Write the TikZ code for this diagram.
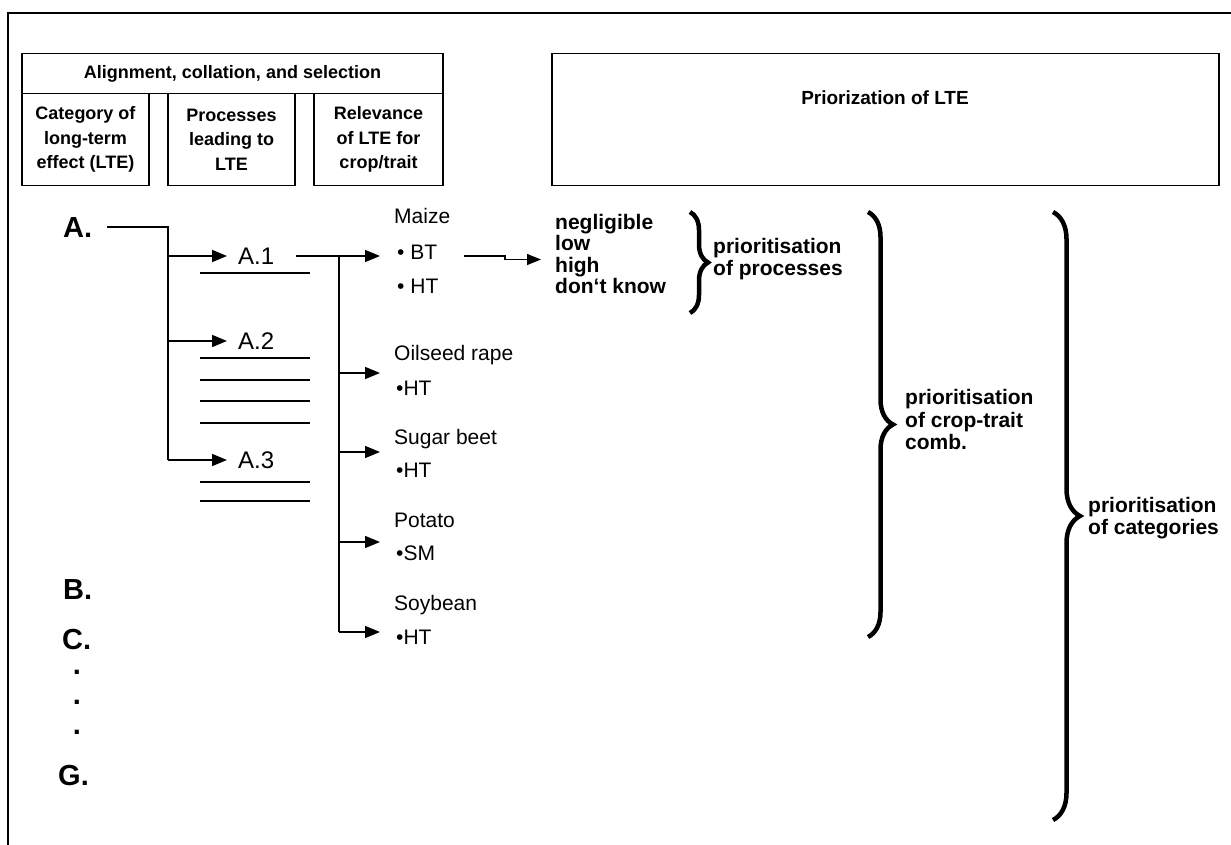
\documentclass[tikz,border=0pt]{standalone}
\usepackage{fontspec}
\setmainfont{Liberation Sans}
\usetikzlibrary{arrows.meta,decorations.pathreplacing,positioning}

\newcommand{\fsz}[2]{\fontsize{#1}{#2}\selectfont}

\tikzset{
  hbox/.style={draw, line width=1.4pt, inner sep=0pt, align=center, font=\bfseries\fsz{18}{24.5}},
  cat/.style={font=\bfseries\fsz{29}{32}, inner sep=0pt, anchor=west},
  proc/.style={font=\fsz{24}{26}, inner xsep=11pt, inner ysep=0pt, anchor=west},
  crop/.style={font=\fsz{21}{24}, inner sep=0pt, anchor=base west},
  rate/.style={font=\bfseries\fsz{21}{22.5}, inner sep=0pt, anchor=west, align=left},
  link/.style={line width=1.6pt},
  arr/.style={line width=1.6pt, -{Triangle[length=15pt,width=12pt]}},
  curly/.style={decorate, decoration={brace, amplitude=#1}, line width=4.5pt},
  uline/.style={line width=1.4pt}
}

\begin{document}
\begin{tikzpicture}[x=1pt,y=-1pt]
\useasboundingbox (0,0) rectangle (1231,845);

% frame
\draw[line width=2pt] (8,845) -- (8,13) -- (1231,13);

% header boxes
\node[hbox, minimum width=421pt, minimum height=40pt] (align) at (232.5,73.5) {Alignment, collation, and selection};
\node[hbox, minimum width=127pt, minimum height=92pt] (catbox) at (85.5,139.5) {Category of\\long-term\\effect (LTE)};
\node[hbox, minimum width=127pt, minimum height=92pt] (procbox) at (231.5,139.5) {Processes\\leading to\\LTE};
\node[hbox, minimum width=129pt, minimum height=92pt] (relbox) at (378.5,139.5) {Relevance\\of LTE for\\crop/trait};
\node[hbox, minimum width=667pt, minimum height=132pt] (priobox) at (885.5,119.5) {};
\node[font=\bfseries\fsz{19}{22}, inner sep=0pt] (priotxt) at (885,98) {Priorization of LTE};

% categories
\node[cat] (A) at (63,228) {A.};
\node[cat] (B) at (63,590) {B.};
\node[cat] (C) at (62,640) {C.};
\foreach \y [count=\i] in {672,702,732}
  \node[font=\bfseries\fsz{29}{32}, inner sep=0pt] (dot\i) at (77,\y) {.};
\node[cat] (G) at (58,776) {G.};

% processes
\node[proc] (A1) at (227,256) {A.1};
\node[proc] (A2) at (227,341) {A.2};
\node[proc] (A3) at (227,460) {A.3};
\foreach \y in {273,358,380,401,423,482,501}
  \draw[uline] (200,\y) -- (310,\y);

\coordinate (jA) at (168,227);
\draw[link] ([xshift=15pt]A.east |- jA) -- (jA) -- (jA |- A3);
\foreach \p in {A1,A2,A3}
  \draw[arr] (jA |- \p) -- (\p.west);

% crops and traits
\node[crop] (maize) at (394,223.5) {Maize};
\node[crop] (maizebt) at (397,259.5) {• BT};
\node[crop] (maizeht) at (397,293.5) {• HT};
\node[crop] (rape) at (394,360.5) {Oilseed rape};
\node[crop] (rapeht) at (396,395.5) {•HT};
\node[crop] (beet) at (394,444.5) {Sugar beet};
\node[crop] (beetht) at (396,477.5) {•HT};
\node[crop] (potato) at (394,527.5) {Potato};
\node[crop] (potatosm) at (396,560.5) {•SM};
\node[crop] (soy) at (394,610.5) {Soybean};
\node[crop] (soyht) at (396,644.5) {•HT};

\coordinate (jB) at (339,256);
\foreach \n/\y in {maize/256,rape/373,beet/452,potato/542,soy/632}
  \coordinate (t\n) at (380,\y);
\draw[line width=2.7pt] ([xshift=11pt]A1.east) -- (jB);
\draw[link] (jB) -- (jB |- tsoy);
\foreach \n in {maize,rape,beet,potato,soy}
  \draw[arr] (jB |- t\n) -- (t\n);

% rating of processes
\node[rate, font=\bfseries\fsz{21}{21.3}] (rating) at (555,254) {negligible\\low\\high\\don‘t know};
\coordinate (bt) at (464,256);
\coordinate (rin) at (541,259.5);
\draw[line width=1.2pt, -{Triangle[length=14pt,width=11pt]}] (bt) -- (505,256) -- (505,259.5) -- (rin);

% braces
\draw[curly=18pt] (690,212) -- (690,313);
\draw[curly=25pt] (868,212) -- (868,637);
\draw[curly=27pt] (1053,212) -- (1053,820);

\node[rate] (pproc) at (713,259) {prioritisation\\of processes};
\node[rate] (pcrop) at (905,419.5) {prioritisation\\of crop-trait\\comb.};
\node[rate] (pcat) at (1088,518) {prioritisation\\of categories};
\end{tikzpicture}
\end{document}
